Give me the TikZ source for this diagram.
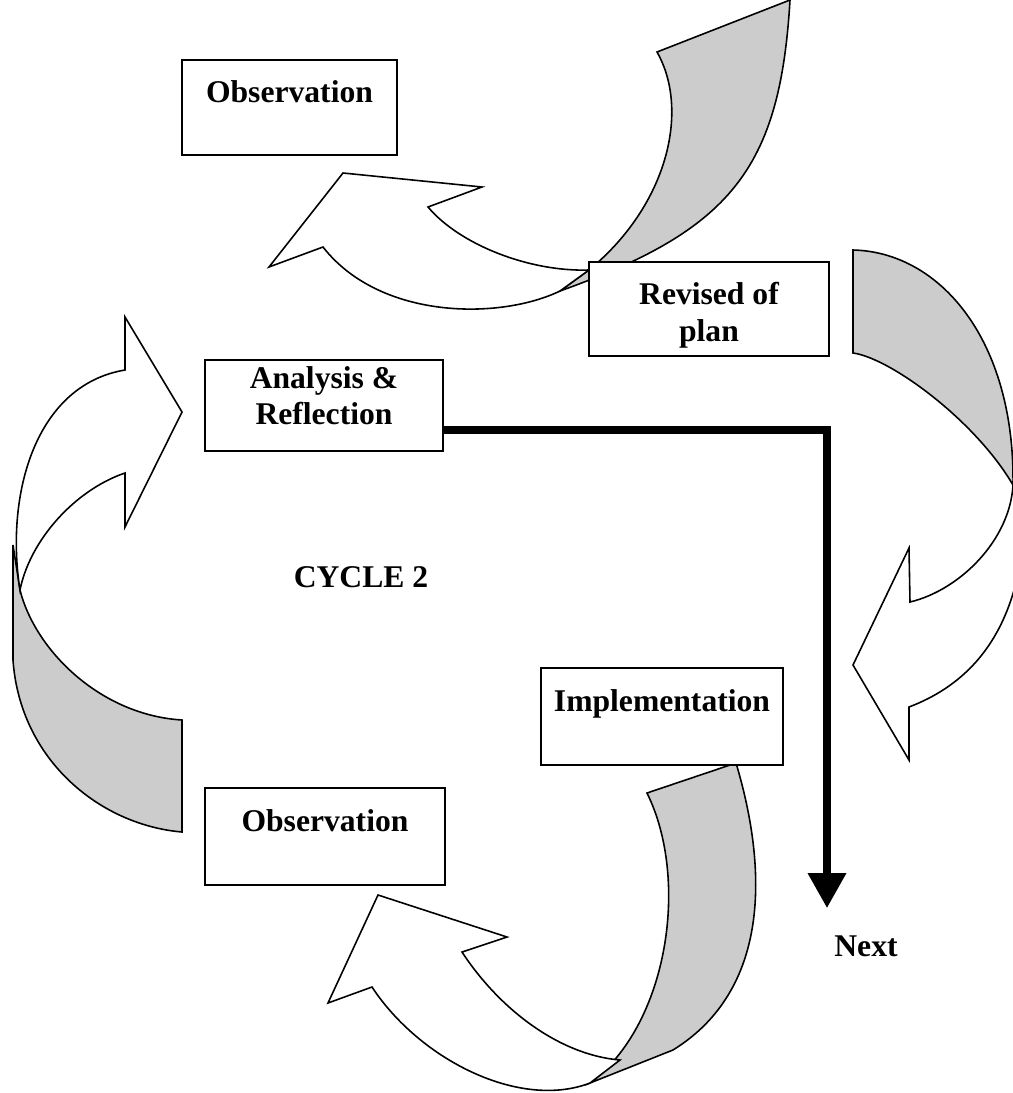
\documentclass[tikz,border=0pt]{standalone}
\usepackage{fontspec}
\setmainfont{Liberation Serif}
\usetikzlibrary{arrows.meta}
\definecolor{backgray}{RGB}{204,204,204}

\begin{document}
\begin{tikzpicture}[x=0.02cm, y=-0.02cm, line width=0.9pt,
    stagebox/.style={draw, fill=white, align=center, inner sep=0pt, font=\bfseries\fontsize{18}{20.5}\selectfont},
    oneline/.style={text depth=0.65cm},
    lbl/.style={font=\bfseries\fontsize{18}{20.5}\selectfont},
    backface/.style={draw, fill=backgray},
    frontface/.style={draw, fill=white},
    flowline/.style={line width=4pt, -{Triangle[length=0.7cm,width=0.74cm]}}]
    \useasboundingbox (0,0) rectangle (1013,1093);
    \clip (0,0) rectangle (1013,1093);

    % top curved arrow
    \draw[backface] (657,52) -- (790,0)
      .. controls (780,170) and (730,230) .. (560,291)
      -- (589,270)
      .. controls (668,205) and (690,110) .. (657,52)
      -- cycle;
    \draw[frontface] (428,207) -- (482,187) -- (343,173) -- (269,267) -- (323,247)
      .. controls (380,320) and (500,320) .. (560,291)
      -- (589,270)
      .. controls (530,272) and (460,245) .. (428,207)
      -- cycle;

    % right curved arrow
    \draw[backface] (853,250) -- (853,353)
      .. controls (890,358) and (975,420) .. (1013,485)
      .. controls (1015,340) and (940,252) .. (853,250)
      -- cycle;
    \draw[frontface] (1013,485)
      .. controls (1010,540) and (960,590) .. (910,602)
      -- (909,548) -- (853,665) -- (909,760) -- (909,707)
      .. controls (980,680) and (1020,620) .. (1025,520)
      -- cycle;

    % left curved arrow
    \draw[backface] (20,590)
      .. controls (35,650) and (100,715) .. (182,720)
      -- (182,832)
      .. controls (100,825) and (20,760) .. (13,660)
      -- (13,545) -- cycle;
    \draw[frontface] (125,370)
      .. controls (35,385) and (5,495) .. (20,590)
      .. controls (30,540) and (75,490) .. (125,473)
      -- (125,527) -- (182,412) -- (125,317) -- cycle;

    % bottom curved arrow
    \draw[backface] (647,793) -- (736,763)
      .. controls (768,870) and (770,990) .. (673,1050)
      -- (590,1083)
      .. controls (668,1025) and (690,880) .. (647,793)
      -- cycle;
    \draw[frontface] (462,952) -- (507,937) -- (378,895) -- (328,1003) -- (372,987)
      .. controls (420,1060) and (520,1110) .. (590,1083)
      -- (620,1060)
      .. controls (560,1055) and (500,1010) .. (462,952)
      -- cycle;

    % Observation (top)
    \node[stagebox, oneline, minimum width=4.3cm, minimum height=1.9cm] (o1) at (289.5,107.5) {Observation};

    % Revised of plan
    \node[stagebox, text height=1.28cm, text depth=0pt, minimum width=4.8cm, minimum height=1.88cm] (rp) at (709,309) {Revised of\\plan};

    % Analysis & Reflection
    \node[stagebox, text height=0.76cm, text depth=0pt, minimum width=4.76cm, minimum height=1.82cm] (ar) at (324,405.5) {Analysis \&\\Reflection};

    % Implementation
    \node[stagebox, oneline, minimum width=4.84cm, minimum height=1.94cm] (im) at (662,716.5) {Implementation};

    % Observation (bottom)
    \node[stagebox, oneline, minimum width=4.8cm, minimum height=1.94cm] (o2) at (325,836.5) {Observation};

    % labels
    \node[lbl] (cy) at (361,577) {CYCLE 2};
    \node[lbl] (nx) at (866,946) {Next};

    % way out to the next cycle
    \coordinate (tip) at (827,908);
    \draw[flowline] ([yshift=-0.49cm]ar.east) -| (tip);
\end{tikzpicture}
\end{document}
